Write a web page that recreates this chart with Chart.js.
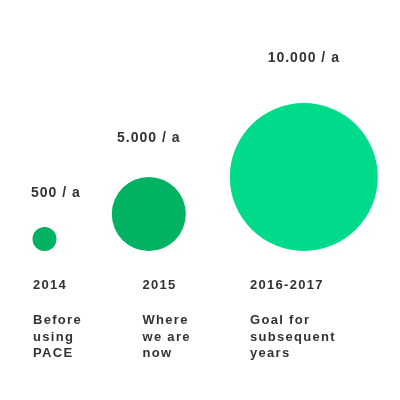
<!DOCTYPE html>
<html>
<head>
<meta charset="utf-8">
<script src="https://cdn.jsdelivr.net/npm/chart.js@4"></script>
<style>
  html, body { margin: 0; padding: 0; background: #ffffff; }
  #wrap { width: 400px; height: 400px; }
</style>
</head>
<body>
<div id="wrap"><canvas id="c" width="400" height="400"></canvas></div>
<script>
// ---- data ----
const years = ['2014', '2015', '2016-2017'];
const captions = [
  ['Before', 'using', 'PACE'],
  ['Where', 'we are', 'now'],
  ['Goal for', 'subsequent', 'years']
];
const values = [500, 5000, 10000];
const valueLabels = ['500 / a', '5.000 / a', '10.000 / a'];

// ---- layout (scale units = pixels on a 0..400 hidden axis) ----
const bubbleX = [44.5, 148.8, 303.8];
const textX = [33, 142.5, 250];
const baseline = 251;
const maxR = 74, minR = 12;
const colors = ['#00b262', '#00b262', '#00db8b'];
const textColor = '#333333';

function radius(v) { return Math.max(minR, maxR * v / Math.max(...values)); }

const points = values.map((v, i) => ({ x: bubbleX[i], y: baseline - radius(v), r: radius(v) }));

const labelPlugin = {
  id: 'labels',
  afterDatasetsDraw(chart) {
    const ctx = chart.ctx;
    const xs = chart.scales.x, ys = chart.scales.y;
    const meta = chart.getDatasetMeta(0);
    ctx.save();
    ctx.fillStyle = textColor;
    ctx.textBaseline = 'alphabetic';
    // value labels above bubbles
    ctx.font = 'bold 14px "Liberation Sans", Arial, sans-serif';
    ctx.letterSpacing = '1px';
    meta.data.forEach((el, i) => {
      const r = points[i].r;
      const top = el.y - r;
      const w = ctx.measureText(valueLabels[i]).width;
      let cx = el.x;
      const leftMin = xs.getPixelForValue(textX[0]) - 2;
      if (cx - w / 2 < leftMin) cx = leftMin + w / 2;
      ctx.textAlign = 'left';
      ctx.fillText(valueLabels[i], cx - w / 2, top - (30 + 5.5 * i));
    });
    // bottom text
    ctx.font = 'bold 13px "Liberation Sans", Arial, sans-serif';
    ctx.letterSpacing = '1.3px';
    ctx.textAlign = 'left';
    years.forEach((yr, i) => {
      const x = xs.getPixelForValue(textX[i]);
      ctx.fillText(yr, x, ys.getPixelForValue(289));
      captions[i].forEach((line, j) => {
        ctx.fillText(line, x, ys.getPixelForValue(324 + j * 16.5));
      });
    });
    ctx.restore();
  }
};

new Chart(document.getElementById('c'), {
  type: 'bubble',
  data: {
    datasets: [{
      data: points,
      backgroundColor: colors,
      borderWidth: 0,
      hoverBorderWidth: 0,
      clip: false
    }]
  },
  options: {
    responsive: false,
    animation: false,
    events: [],
    layout: { padding: 0, autoPadding: false },
    plugins: { legend: { display: false }, tooltip: { enabled: false } },
    scales: {
      x: { type: 'linear', min: 0, max: 400, display: false },
      y: { type: 'linear', min: 0, max: 400, reverse: true, display: false }
    }
  },
  plugins: [labelPlugin]
});
</script>
</body>
</html>
